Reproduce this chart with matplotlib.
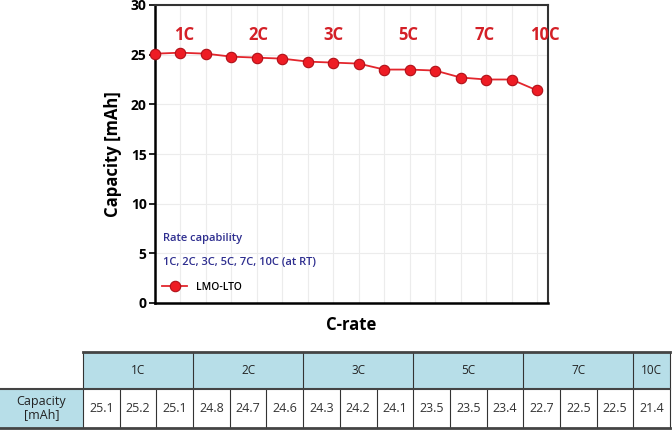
import matplotlib
matplotlib.use("Agg")
import matplotlib.pyplot as plt
from matplotlib.patches import Rectangle

plt.rcParams['font.family'] = ['Open Sans', 'DejaVu Sans']

capacity = [25.1, 25.2, 25.1, 24.8, 24.7, 24.6, 24.3, 24.2, 24.1,
            23.5, 23.5, 23.4, 22.7, 22.5, 22.5, 21.4]
rate_groups = ['1C', '2C', '3C', '5C', '7C', '10C']
group_sizes = [3, 3, 3, 3, 3, 1]
group_label_x = [1.15, 4.05, 7.0, 9.95, 12.95, 15.3]
yticks = [0, 5, 10, 15, 20, 25, 30]

W, H = 672, 434
fig = plt.figure(figsize=(W / 100, H / 100), dpi=100)

# main plot
ax = fig.add_axes([155 / W, 1 - 303 / H, (548 - 155) / W, (303 - 5) / H])
x = list(range(len(capacity)))
ax.plot(x, capacity, color='#e3262d', lw=1.3, marker='o', ms=7.5,
        mfc='#ee1c24', mec='#b01018', mew=0.8, zorder=3, clip_on=False,
        label='LMO-LTO')
ax.set_xlim(0, 15.43)
ax.set_ylim(0, 30)
ax.set_yticks(yticks)
ax.set_xticks(x)
ax.set_xticklabels([])
ax.tick_params(axis='x', length=0)
ax.tick_params(axis='y', direction='out', length=4, width=1.2, labelsize=10, pad=2)
for lab in ax.get_yticklabels():
    lab.set_fontweight('bold')
ax.grid(True, color='#ececec', lw=0.8)
for s in ['left', 'bottom']:
    ax.spines[s].set_linewidth(1.8)
for s in ['top', 'right']:
    ax.spines[s].set_linewidth(1.5)
    ax.spines[s].set_color('#333333')

for gx, g in zip(group_label_x, rate_groups):
    ax.text(gx, 27.0, g, color='#d42027', fontsize=12, fontweight='bold',
            ha='center', va='center', clip_on=False)

ax.set_ylabel('Capacity [mAh]', fontsize=12, fontweight='bold', labelpad=6)
ax.set_xlabel('C-rate', fontsize=12, fontweight='bold', labelpad=6)

ax.text(0.3, 6.5, 'Rate capability', color='#2e2e8f', fontsize=8,
        fontweight='semibold', va='center')
ax.text(0.3, 4.1, '1C, 2C, 3C, 5C, 7C, 10C (at RT)', color='#2e2e8f', fontsize=8,
        fontweight='semibold', va='center')
ax.legend(loc='lower left', bbox_to_anchor=(0.0, 0.01), frameon=False,
          fontsize=7.5, handlelength=2.4, borderaxespad=0.3,
          prop={'weight': 'semibold', 'size': 7.5})

# table
tax = fig.add_axes([0, 0, 1, 1])
tax.set_xlim(0, W)
tax.set_ylim(H, 0)
tax.axis('off')

x0, x1 = 83, 670
y0, y1, y2 = 352, 389, 428
n = len(capacity)
cw = (x1 - x0) / n
cyan = '#b7dee8'
edge = '#333333'

tax.add_patch(Rectangle((x0, y0), x1 - x0, y1 - y0, fc=cyan, ec='none'))
tax.add_patch(Rectangle((0, y1), x0, y2 - y1, fc=cyan, ec='none'))
tax.text(x0 / 2, (y1 + y2) / 2, 'Capacity\n[mAh]', ha='center', va='center',
         fontsize=9, linespacing=1.0, color='#222222')

start = 0
for g, size in zip(rate_groups, group_sizes):
    gx0 = x0 + start * cw
    gx1 = x0 + (start + size) * cw
    tax.text((gx0 + gx1) / 2, (y0 + y1) / 2, g, ha='center', va='center',
             fontsize=8.5, color='#222222')
    tax.plot([gx0, gx0], [y0, y1], color=edge, lw=0.8)
    start += size
tax.plot([x1, x1], [y0, y2], color=edge, lw=0.8)

for i, v in enumerate(capacity):
    cx0 = x0 + i * cw
    tax.text(cx0 + cw / 2, (y1 + y2) / 2, f'{v:.1f}', ha='center', va='center',
             fontsize=9, color='#333333')
    tax.plot([cx0, cx0], [y1, y2], color=edge, lw=0.8)

tax.plot([x0, x1], [y0, y0], color='#444444', lw=2)
tax.plot([0, x1], [y1, y1], color='#444444', lw=1.5)
tax.plot([0, x1], [y2, y2], color='#444444', lw=2)

fig.savefig('out.png', dpi=100)
